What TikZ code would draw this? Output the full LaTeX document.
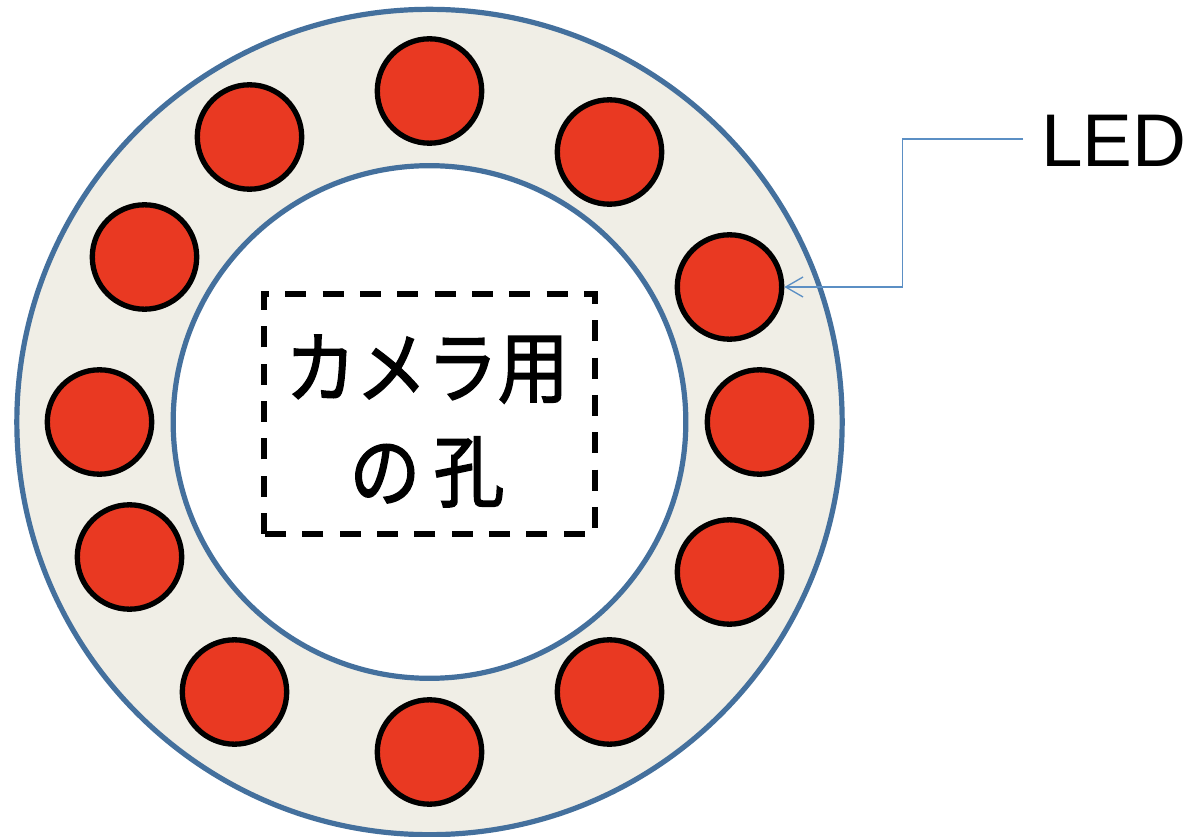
\documentclass[tikz,border=0pt]{standalone}
\usepackage{fontspec}
\usetikzlibrary{arrows.meta}
\setmainfont{Liberation Sans}
\newfontfamily\cjk[FakeBold=1.8,FakeStretch=0.9]{Noto Sans CJK JP}
\definecolor{ringblue}{HTML}{44709D}
\definecolor{ringfill}{HTML}{F0EEE6}
\definecolor{ledred}{HTML}{E93922}
\definecolor{leader}{HTML}{5B8FC4}
\tikzset{x=0.75pt,y=-0.75pt,
 ledcirc/.style={circle,draw=black,fill=ledred,line width=4pt,minimum size=78.3pt,inner sep=0pt},
 ring/.style={draw=ringblue,line width=3.9pt}}
\begin{document}
\begin{tikzpicture}
\useasboundingbox (0,0) rectangle (1190,837);
\fill[white] (0,0) rectangle (1190,837);
\node[ring,circle,fill=ringfill,minimum size=619pt,inner sep=0pt] (outer) at (429.5,422) {};
\node[ring,circle,fill=white,minimum size=384.5pt,inner sep=0pt] (inner) at (429.5,422) {};
\foreach \n/\x/\y in {a/429.5/91,b/609.5/152,c/729.5/287,d/759.5/422,e/729.5/572,f/609.5/692,g/429.5/752,h/234.5/692,i/129.5/557,j/99.5/422,k/144.5/257,l/249.5/137}
  \node[ledcirc] (\n) at (\x,\y) {};
\node[minimum width=248.25pt,minimum height=180pt,inner sep=0pt,outer sep=0pt] (box) at (429.5,414) {};
\draw[black,line width=3.8pt,dash pattern=on 15.8pt off 12.2pt] (box.south west) -- (box.north west) -- (box.north east) -- (box.south east) -- cycle;
\node[inner sep=0pt,align=center,font=\cjk\fontsize{59pt}{78pt}\selectfont] (lbl) at (427,421) {カメラ用\\の\hspace{10pt}孔};
\node[inner sep=0pt,anchor=base west,font=\fontsize{56pt}{60pt}\selectfont] (led) at (1041,167) {LED};
\coordinate (ledend) at (1023,139.3);
\draw[leader,line width=1.4pt,-{Straight Barb[length=13pt,width=15pt,line width=1pt]}] (ledend) -- (902.5,139.3) -- (902.5,287) -- (c.east);
\end{tikzpicture}
\end{document}
